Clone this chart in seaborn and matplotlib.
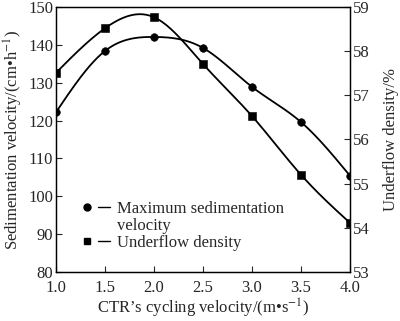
import numpy as np
import pandas as pd
import matplotlib
matplotlib.use("Agg")
import matplotlib.pyplot as plt
import seaborn as sns
from matplotlib.lines import Line2D
from matplotlib.legend_handler import HandlerTuple

# ---- data ----
cycling_velocity = [1.0, 1.5, 2.0, 2.5, 3.0, 3.5, 4.0]
sed_velocity = [122.2, 138.4, 142.1, 139.2, 128.9, 119.6, 105.4]
underflow_density = [57.51, 58.52, 58.77, 57.71, 56.53, 55.20, 54.11]
left_ticks = [80, 90, 100, 110, 120, 130, 140, 150]
right_ticks = [53, 54, 55, 56, 57, 58, 59]
x_ticks = [1.0, 1.5, 2.0, 2.5, 3.0, 3.5, 4.0]


def natural_spline(x, y, n=300):
    x = np.asarray(x, float)
    y = np.asarray(y, float)
    m = len(x)
    h = np.diff(x)
    A = np.zeros((m, m))
    b = np.zeros(m)
    A[0, 0] = 1
    A[-1, -1] = 1
    for i in range(1, m - 1):
        A[i, i - 1] = h[i - 1]
        A[i, i] = 2 * (h[i - 1] + h[i])
        A[i, i + 1] = h[i]
        b[i] = 6 * ((y[i + 1] - y[i]) / h[i] - (y[i] - y[i - 1]) / h[i - 1])
    M = np.linalg.solve(A, b)
    xs = np.linspace(x[0], x[-1], n)
    idx = np.clip(np.searchsorted(x, xs) - 1, 0, m - 2)
    x0, x1 = x[idx], x[idx + 1]
    hh = x1 - x0
    ys = (M[idx] * (x1 - xs) ** 3 / (6 * hh) + M[idx + 1] * (xs - x0) ** 3 / (6 * hh)
          + (y[idx] / hh - M[idx] * hh / 6) * (x1 - xs)
          + (y[idx + 1] / hh - M[idx + 1] * hh / 6) * (xs - x0))
    return xs, ys


sns.set_style("ticks")
plt.rcParams["font.family"] = ["Liberation Serif", "DejaVu Serif"]
plt.rcParams["mathtext.fontset"] = "stix"
plt.rcParams["xtick.direction"] = "in"
plt.rcParams["ytick.direction"] = "in"

fig, ax = plt.subplots(figsize=(4.0, 3.21), dpi=100)
fig.subplots_adjust(left=0.14, right=0.875, top=0.978, bottom=0.153)
ax2 = ax.twinx()

fs = 12
df1 = pd.DataFrame({"x": cycling_velocity, "y": sed_velocity})
df2 = pd.DataFrame({"x": cycling_velocity, "y": underflow_density})
sx1, sy1 = natural_spline(cycling_velocity, sed_velocity)
sx2, sy2 = natural_spline(cycling_velocity, underflow_density)

sns.lineplot(x=sx1, y=sy1, ax=ax, color="black", linewidth=1.3)
sns.scatterplot(data=df1, x="x", y="y", ax=ax, color="black", marker="o", s=30,
                edgecolor="black", zorder=5)
sns.lineplot(x=sx2, y=sy2, ax=ax2, color="black", linewidth=1.3)
sns.scatterplot(data=df2, x="x", y="y", ax=ax2, color="black", marker="s", s=26,
                edgecolor="black", zorder=5)

ax.set_xlim(1.0, 4.0)
ax.set_ylim(80, 150)
ax2.set_ylim(53, 59)
ax.set_xticks(x_ticks)
ax.set_xticklabels([f"{v:.1f}" for v in x_ticks], fontsize=fs)
ax.set_yticks(left_ticks)
ax.set_yticklabels([str(v) for v in left_ticks], fontsize=fs)
ax2.set_yticks(right_ticks)
ax2.set_yticklabels([str(v) for v in right_ticks], fontsize=fs)

ax.tick_params(axis="y", length=4, width=0.8, pad=2, direction="in")
ax.tick_params(axis="x", length=4, width=0.8, pad=5.5, direction="in")
ax2.tick_params(axis="y", length=4, width=0.8, pad=2, direction="in")

ax.set_xlabel("CTR\u2019s cycling velocity/(m\u2022s$^{-1}$)", fontsize=fs, labelpad=1)
ax.set_ylabel("Sedimentation velocity/(cm\u2022h$^{-1}$)", fontsize=fs, labelpad=2)
ax2.set_ylabel("Underflow density/%", fontsize=fs, labelpad=10)

for a in (ax, ax2):
    for sp in a.spines.values():
        sp.set_visible(True)
        sp.set_linewidth(0.9)
        sp.set_color("black")

h1 = (Line2D([], [], marker="o", color="black", linestyle="none", markersize=5),
      Line2D([], [], color="black", linewidth=1.0))
h_blank = Line2D([], [], linestyle="none", marker=None)
h2 = (Line2D([], [], marker="s", color="black", linestyle="none", markersize=4.5),
      Line2D([], [], color="black", linewidth=1.0))
ax.legend([h1, h_blank, h2], ["Maximum sedimentation", "velocity", "Underflow density"],
          handler_map={tuple: HandlerTuple(ndivide=None, pad=0.3)},
          loc="upper left", bbox_to_anchor=(0.043, 0.311), frameon=False,
          fontsize=fs, handlelength=1.8, handletextpad=0.4, labelspacing=0.05,
          borderpad=0.2)

fig.savefig("out.png", dpi=100)
